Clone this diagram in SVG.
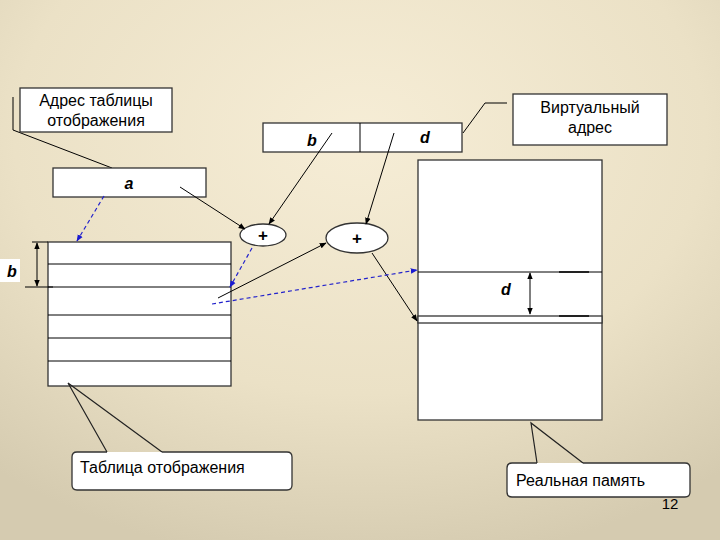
<svg xmlns="http://www.w3.org/2000/svg" width="720" height="540" viewBox="0 0 720 540">
<defs>
<radialGradient id="bg" cx="0.5" cy="0.25" r="0.8">
<stop offset="0" stop-color="#f6edd6"/>
<stop offset="0.6" stop-color="#ebe1c6"/>
<stop offset="1" stop-color="#d5cbb0"/>
</radialGradient>
<marker id="ah" viewBox="0 0 10 10" refX="9" refY="5" markerWidth="7" markerHeight="7" orient="auto-start-reverse" markerUnits="userSpaceOnUse">
<path d="M0,1 L10,5 L0,9 z" fill="#000"/>
</marker>
<marker id="ahb" viewBox="0 0 10 10" refX="9" refY="5" markerWidth="7" markerHeight="7" orient="auto" markerUnits="userSpaceOnUse">
<path d="M0,1 L10,5 L0,9 z" fill="#1a1ad0"/>
</marker>
<style>
.box{fill:#fff;stroke:#333;stroke-width:1.3}
.ln{fill:none;stroke:#000;stroke-width:1}
.ptr{fill:none;stroke:#222;stroke-width:1.2}
.dash{fill:none;stroke:#2222cc;stroke-width:1.2;stroke-dasharray:4,3}
.t{font-family:"Liberation Sans",Arial,sans-serif;font-size:16px;fill:#000}
.bi{font-family:"Liberation Sans",Arial,sans-serif;font-size:16px;font-weight:bold;font-style:italic;fill:#000}
.plus{font-family:"Liberation Sans",Arial,sans-serif;font-size:17px;font-weight:bold;fill:#000}
</style>
</defs>
<rect width="720" height="540" fill="url(#bg)"/>

<g id="table-addr-label">
<polyline class="ln" points="13,97 13,130 112,168"/>
<rect class="box" x="20" y="88" width="152" height="44"/>
<text class="t" x="96" y="106" text-anchor="middle">Адрес таблицы</text>
<text class="t" x="96" y="126" text-anchor="middle">отображения</text>
</g>

<g id="reg-a">
<rect class="box" x="53" y="168" width="153" height="29"/>
<text class="bi" x="129" y="189" text-anchor="middle">a</text>
</g>

<g id="vaddr">
<rect class="box" x="263" y="123" width="199" height="29"/>
<line class="ln" x1="360" y1="123" x2="360" y2="152"/>
<text class="bi" x="312" y="146" text-anchor="middle">b</text>
<text class="bi" x="425" y="143" text-anchor="middle">d</text>
</g>

<g id="vaddr-label">
<polyline class="ln" points="463,133 485,103 507,103"/>
<rect class="box" x="513" y="94" width="154" height="51"/>
<text class="t" x="590" y="113" text-anchor="middle">Виртуальный</text>
<text class="t" x="590" y="133" text-anchor="middle">адрес</text>
</g>

<g id="plus1">
<ellipse class="box" cx="263" cy="235" rx="23" ry="11"/>
<text class="plus" x="263" y="241" text-anchor="middle">+</text>
</g>

<g id="plus2">
<ellipse class="box" cx="357" cy="238" rx="31" ry="15"/>
<text class="plus" x="357" y="244" text-anchor="middle">+</text>
</g>

<g id="map-table">
<rect class="box" x="48" y="242" width="183" height="144"/>
<line class="ln" x1="48" y1="264" x2="231" y2="264"/>
<line class="ln" x1="48" y1="287" x2="231" y2="287"/>
<line class="ln" x1="48" y1="315" x2="231" y2="315"/>
<line class="ln" x1="48" y1="338" x2="231" y2="338"/>
<line class="ln" x1="48" y1="361" x2="231" y2="361"/>
<line class="ln" x1="32" y1="242" x2="48" y2="242"/>
<line class="ln" x1="25" y1="287" x2="53" y2="287"/>
<line class="ln" x1="37" y1="243" x2="37" y2="286" marker-start="url(#ah)" marker-end="url(#ah)"/>
<rect x="0" y="259" width="20" height="23" fill="#fff"/>
<text class="bi" x="12" y="277" text-anchor="middle">b</text>
</g>

<g id="real-memory">
<rect class="box" x="418" y="160" width="184" height="260"/>
<line class="ln" x1="418" y1="272" x2="602" y2="272"/>
<rect class="box" x="418" y="316" width="184" height="7"/>
<line x1="559" y1="272" x2="589" y2="272" stroke="#222" stroke-width="2"/>
<line x1="559" y1="316" x2="589" y2="316" stroke="#222" stroke-width="2"/>
<line class="ln" x1="530" y1="273" x2="530" y2="314" marker-start="url(#ah)" marker-end="url(#ah)"/>
<text class="bi" x="506" y="295" text-anchor="middle">d</text>
</g>

<g id="table-label">
<path class="box" d="M107,452 L77,452 Q72,452 72,457 L72,485 Q72,490 77,490 L287,490 Q292,490 292,485 L292,457 Q292,452 287,452 L162,452"/>
<polyline class="ptr" points="107,452 68,383 162,452"/>
<text class="t" x="80" y="473">Таблица отображения</text>
</g>

<g id="memory-label">
<path class="box" d="M537,463 L512,463 Q507,463 507,468 L507,492 Q507,497 512,497 L685,497 Q690,497 690,492 L690,468 Q690,463 685,463 L583,463"/>
<polyline class="ptr" points="537,463 531,423 583,463"/>
<text class="t" x="516" y="486">Реальная память</text>
</g>

<g id="connectors">
<line class="ln" x1="180" y1="187" x2="245" y2="229" marker-end="url(#ah)"/>
<line class="ln" x1="332" y1="133" x2="269" y2="224" marker-end="url(#ah)"/>
<line class="ln" x1="394" y1="133" x2="366" y2="224" marker-end="url(#ah)"/>
<line class="ln" x1="218" y1="298" x2="326" y2="243" marker-end="url(#ah)"/>
<line class="ln" x1="372" y1="253" x2="417" y2="321" marker-end="url(#ah)"/>
<line class="dash" x1="104" y1="196" x2="77" y2="241" marker-end="url(#ahb)"/>
<line class="dash" x1="252" y1="248" x2="230" y2="287" marker-end="url(#ahb)"/>
<line class="dash" x1="212" y1="304" x2="417" y2="270" marker-end="url(#ahb)"/>
</g>

<text class="t" x="670" y="509" text-anchor="middle" style="font-size:15px">12</text>
</svg>
